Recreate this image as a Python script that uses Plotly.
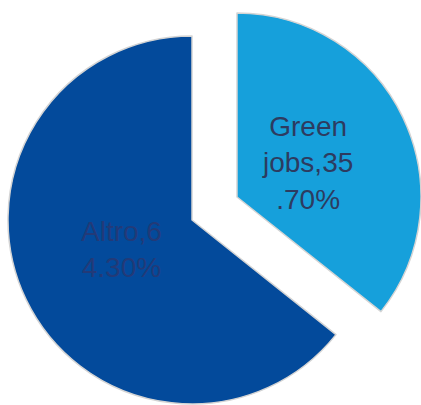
import plotly.graph_objects as go

# Share of employment: green jobs vs. everything else
labels = ["Green jobs", "Altro"]
values = [35.70, 64.30]
label_lines = [["Green", "jobs,35", ".70%"], ["Altro,6", "4.30%"]]

colors = ["#16a0db", "#034a9b"]
text_colors = ["#2d3b60", "#223a78"]
HIDDEN = "rgba(0,0,0,0)"

W, H = 421, 405


def box(cx, cy, r):
    """Pie domain (paper fractions) for a pie centred at pixel (cx, cy) with radius r."""
    return dict(x=[(cx - r) / W, (cx + r) / W],
                y=[1 - (cy + r) / H, 1 - (cy - r) / H])


# The "Green jobs" slice is exploded away from the centre, so each slice is
# drawn by its own pie trace (the other slice transparent) with shifted centres.
centres = [(237, 197), (192, 220)]
R = 184
# Pixel centres of each slice's label block
label_pos = [(307, 163), (121, 249)]

fig = go.Figure()
for i, (cx, cy) in enumerate(centres):
    shown = [j == i for j in range(len(values))]
    fig.add_trace(go.Pie(
        labels=labels,
        values=values,
        sort=False,
        direction="clockwise",
        rotation=0,
        domain=box(cx, cy, R),
        textinfo="none",
        marker=dict(colors=[colors[j] if shown[j] else HIDDEN for j in range(len(values))],
                    line=dict(color=["#d4d4d4" if shown[j] else HIDDEN for j in range(len(values))],
                              width=1.5)),
        hoverinfo="skip",
        showlegend=False,
    ))

for j, (lx, ly) in enumerate(label_pos):
    fig.add_annotation(
        x=lx / W, y=1 - ly / H, xref="paper", yref="paper",
        xanchor="center", yanchor="middle",
        text="<br>".join(label_lines[j]),
        showarrow=False,
        font=dict(family="Liberation Sans, Arial, sans-serif", size=28, color=text_colors[j]),
    )

fig.update_layout(
    width=W, height=H,
    margin=dict(l=0, r=0, t=0, b=0),
    paper_bgcolor="white",
    plot_bgcolor="white",
)

fig.write_html("out.html")
